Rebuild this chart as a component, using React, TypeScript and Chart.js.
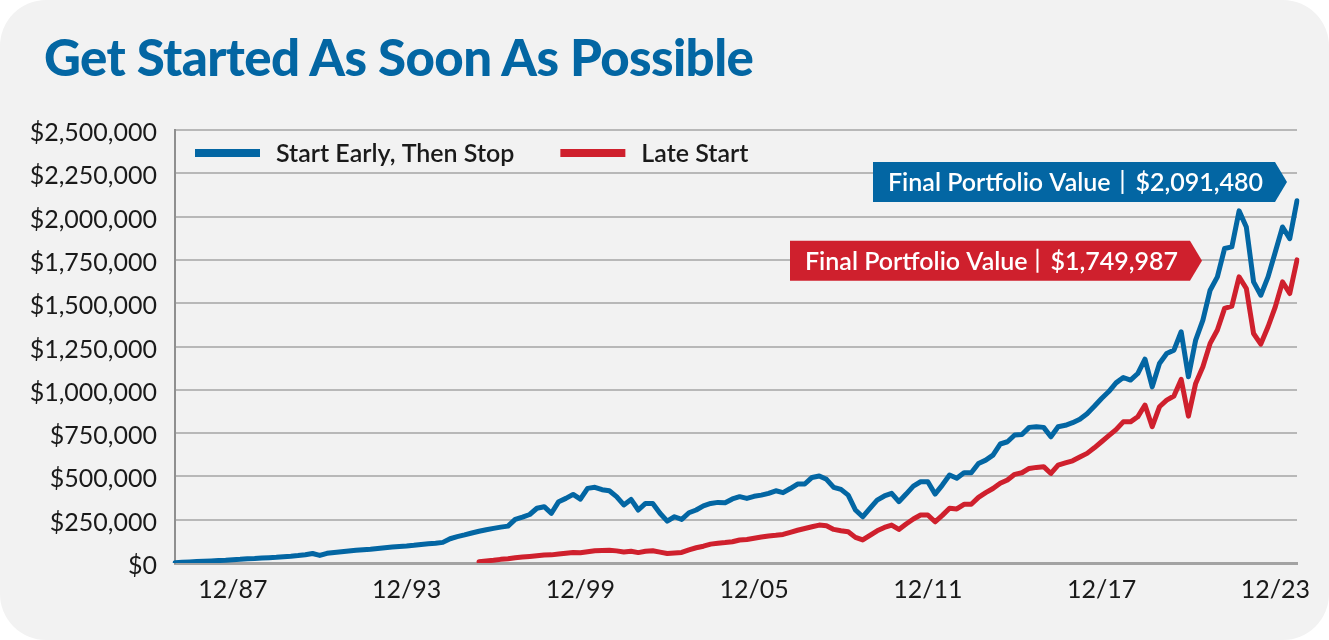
import React, { useEffect, useRef } from "react";
import { Chart, registerables } from "chart.js";

Chart.register(...registerables);

// Quarterly categories, 12/85 through 9/24
const categories: string[] = (() => {
  const out: string[] = [];
  let m = 12;
  let y = 85;
  for (let i = 0; i < 156; i++) {
    out.push(`${m}/${String(y % 100).padStart(2, "0")}`);
    m += 3;
    if (m > 12) {
      m -= 12;
      y += 1;
    }
  }
  return out;
})();

const tickLabels = ["12/87", "12/93", "12/99", "12/05", "12/11", "12/17", "12/23"];

const seriesNames = ["Start Early, Then Stop", "Late Start"];

const startEarlyValues = [
  2000, 4000, 6000, 8000, 10000, 12000, 14000, 16000, 19000, 21000,
  24000, 26000, 29000, 31000, 33000, 36000, 39000, 43000, 48000, 55000,
  44000, 56000, 61000, 65000, 69000, 73000, 77000, 80000, 84000, 88000,
  92000, 95000, 98000, 102000, 107000, 111000, 114000, 119000, 140000, 152000,
  162000, 173000, 183000, 192000, 200000, 207000, 213000, 252000, 265000, 280000,
  316000, 325000, 287000, 354000, 373000, 396000, 369000, 431000, 437000, 423000,
  417000, 383000, 335000, 367000, 306000, 344000, 344000, 287000, 242000, 267000,
  252000, 290000, 306000, 330000, 344000, 350000, 348000, 370000, 383000, 373000,
  385000, 392000, 402000, 417000, 406000, 430000, 456000, 456000, 494000, 502000,
  483000, 437000, 425000, 392000, 306000, 267000, 316000, 363000, 387000, 402000,
  354000, 398000, 444000, 469000, 469000, 398000, 450000, 508000, 489000, 521000,
  521000, 575000, 594000, 623000, 687000, 700000, 739000, 742000, 783000, 787000,
  783000, 729000, 787000, 795000, 810000, 830000, 862000, 905000, 950000, 990000,
  1040000, 1071000, 1056000, 1094000, 1177000, 1017000, 1152000, 1210000, 1229000, 1335000,
  1075000, 1287000, 1402000, 1575000, 1652000, 1816000, 1825000, 2033000, 1940000, 1623000,
  1546000, 1652000, 1796000, 1940000, 1873000, 2091480,
];

const lateStartFrom = "6/96";
const lateStartValues = [
  8000, 12000, 16000, 21000, 25000, 30000, 34000, 38000,
  42000, 46000, 47000, 52000, 56000, 60000, 59000, 65000, 71000, 72000,
  73000, 70000, 64000, 68000, 60000, 68000, 71000, 63000, 55000, 58000,
  61000, 76000, 88000, 97000, 109000, 114000, 118000, 123000, 133000, 136000,
  143000, 150000, 156000, 160000, 165000, 177000, 189000, 199000, 209000, 219000,
  215000, 194000, 186000, 180000, 148000, 133000, 160000, 186000, 205000, 219000,
  194000, 225000, 254000, 277000, 277000, 238000, 275000, 316000, 312000, 339000,
  339000, 379000, 406000, 430000, 460000, 479000, 512000, 521000, 546000, 552000,
  556000, 517000, 565000, 578000, 590000, 612000, 633000, 665000, 700000, 735000,
  770000, 815000, 815000, 844000, 912000, 787000, 902000, 940000, 964000, 1060000,
  848000, 1037000, 1133000, 1268000, 1345000, 1470000, 1483000, 1652000, 1585000, 1325000,
  1264000, 1364000, 1479000, 1623000, 1556000, 1749987,
];

const calloutLabel = "Final Portfolio Value";
const finalValues = ["$2,091,480", "$1,749,987"];

const BLUE = "#0366a3";
const RED = "#cf202d";
const FONT = "Lato, 'Open Sans', sans-serif";

function drawCallout(
  ctx: CanvasRenderingContext2D,
  left: number,
  right: number,
  centerY: number,
  color: string,
  value: string
) {
  const h = 40;
  const top = centerY - h / 2;
  const bottom = centerY + h / 2;
  const tip = 12;
  ctx.save();
  ctx.fillStyle = color;
  ctx.beginPath();
  ctx.moveTo(left, top);
  ctx.lineTo(right, top);
  ctx.lineTo(right + tip, centerY);
  ctx.lineTo(right, bottom);
  ctx.lineTo(left, bottom);
  ctx.closePath();
  ctx.fill();
  ctx.fillStyle = "#ffffff";
  ctx.font = `600 25px ${FONT}`;
  ctx.textBaseline = "middle";
  ctx.textAlign = "left";
  ctx.fillText(calloutLabel, left + 15, centerY + 1);
  ctx.textAlign = "right";
  ctx.fillText(value, right - 12, centerY + 1);
  const vw = ctx.measureText(value).width;
  const sepX = right - 12 - vw - 13;
  ctx.strokeStyle = "#ffffff";
  ctx.lineWidth = 2;
  ctx.beginPath();
  ctx.moveTo(sepX, centerY - 12);
  ctx.lineTo(sepX, centerY + 12);
  ctx.stroke();
  ctx.restore();
}

const overlayPlugin = {
  id: "overlay",
  afterDatasetsDraw(chart: any) {
    const { ctx, chartArea, scales } = chart;
    const ys = scales.y;
    // legend
    ctx.save();
    ctx.font = `600 25px ${FONT}`;
    ctx.textBaseline = "middle";
    ctx.textAlign = "left";
    const ly = chartArea.top + 23;
    const colors = [BLUE, RED];
    let x = chartArea.left + 20;
    seriesNames.forEach((name, i) => {
      ctx.fillStyle = colors[i];
      ctx.fillRect(x, ly - 4, 65, 8);
      ctx.fillStyle = "#1a1a1a";
      ctx.fillText(name, x + 81, ly + 1);
      x += 81 + ctx.measureText(name).width + 46;
    });
    ctx.restore();
    // callouts
    drawCallout(ctx, chartArea.left + 698, chartArea.right - 22, ys.getPixelForValue(2200000), BLUE, finalValues[0]);
    drawCallout(ctx, chartArea.left + 615, chartArea.right - 107, ys.getPixelForValue(1745000), RED, finalValues[1]);
  },
};

export default function App() {
  const canvasRef = useRef<HTMLCanvasElement | null>(null);

  useEffect(() => {
    if (!canvasRef.current) return;
    const startIdx = categories.indexOf(lateStartFrom);
    const lateData: (number | null)[] = categories.map((_, i) =>
      i < startIdx ? null : lateStartValues[i - startIdx] ?? null
    );
    const chart = new Chart(canvasRef.current, {
      type: "line",
      data: {
        labels: categories,
        datasets: [
          {
            label: seriesNames[0],
            data: startEarlyValues,
            borderColor: BLUE,
            backgroundColor: BLUE,
            borderWidth: 5,
            pointRadius: 0,
            tension: 0,
            borderJoinStyle: "round",
            borderCapStyle: "round",
          },
          {
            label: seriesNames[1],
            data: lateData,
            borderColor: RED,
            backgroundColor: RED,
            borderWidth: 5,
            pointRadius: 0,
            tension: 0,
            borderJoinStyle: "round",
            borderCapStyle: "round",
            spanGaps: false,
          },
        ],
      },
      options: {
        animation: false,
        responsive: true,
        maintainAspectRatio: false,
        devicePixelRatio: 1,
        layout: { padding: { left: 0, top: 130, right: 32, bottom: 0 } },
        plugins: {
          legend: { display: false },
          tooltip: { enabled: false },
        },
        scales: {
          x: {
            type: "category",
            offset: false,
            grid: { display: false, drawTicks: false },
            border: { display: true, color: "#a3a3a3", width: 3 },
            ticks: {
              autoSkip: false,
              maxRotation: 0,
              minRotation: 0,
              padding: 12,
              color: "#1a1a1a",
              font: { family: FONT, size: 25 },
              callback: function (this: any, value: any) {
                return this.getLabelForValue(value);
              },
            },
            afterBuildTicks: (scale: any) => {
              scale.ticks = scale.ticks.filter((t: any) =>
                tickLabels.includes(categories[t.value])
              );
            },
            afterFit: (scale: any) => {
              scale.height = 77;
            },
          },
          y: {
            min: 0,
            max: 2500000,
            grid: { color: "#b8b8b8", lineWidth: 2, drawTicks: false },
            border: { display: true, color: "#8f8f8f", width: 2 },
            ticks: {
              stepSize: 250000,
              padding: 18,
              labelOffset: 3,
              color: "#1a1a1a",
              font: { family: FONT, size: 25 },
              callback: (v: any) => "$" + Number(v).toLocaleString("en-US"),
            },
            afterFit: (scale: any) => {
              scale.width = 175;
            },
          },
        },
      },
      plugins: [overlayPlugin],
    });
    return () => chart.destroy();
  }, []);

  return (
    <div
      style={{
        position: "fixed",
        left: 0,
        top: 0,
        width: 1329,
        height: 640,
        background: "#ffffff",
        overflow: "hidden",
      }}
    >
      <div
        style={{
          position: "absolute",
          left: 0,
          top: 0,
          width: 1329,
          height: 640,
          background: "#f2f2f2",
          borderRadius: 46,
        }}
      />
      <div
        style={{
          position: "absolute",
          left: 44,
          top: 27,
          fontFamily: FONT,
          fontWeight: 900,
          fontSize: 51,
          color: BLUE,
          letterSpacing: -0.6,
          whiteSpace: "nowrap",
          lineHeight: "60px",
        }}
      >
        Get Started As Soon As Possible
      </div>
      <div style={{ position: "absolute", left: 0, top: 0, width: 1329, height: 640 }}>
        <canvas ref={canvasRef} />
      </div>
    </div>
  );
}
